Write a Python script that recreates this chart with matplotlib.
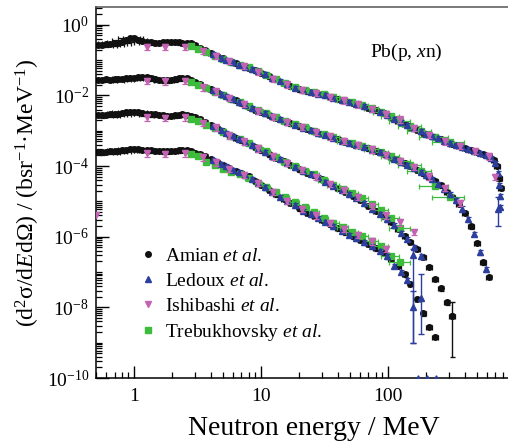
import numpy as np
import matplotlib
matplotlib.use('Agg')
import matplotlib.pyplot as plt
from matplotlib.lines import Line2D
from matplotlib.ticker import LogLocator, FixedLocator, FixedFormatter, NullFormatter, LogFormatterSciNotation

plt.rcParams['font.family'] = ['Liberation Serif', 'DejaVu Serif']
plt.rcParams['mathtext.fontset'] = 'custom'
plt.rcParams['mathtext.rm'] = 'Liberation Serif'
plt.rcParams['mathtext.it'] = 'Liberation Serif:italic'
plt.rcParams['mathtext.bf'] = 'Liberation Serif:bold'

# ---- Amian et al. (black), four angles, shared energy grid (MeV)
amian_e = [0.52, 0.56, 0.60, 0.65, 0.70, 0.75, 0.80, 0.86, 0.93, 1.0,
           1.08, 1.16, 1.25, 1.35, 1.45, 1.56, 1.68, 1.8, 1.95, 2.1,
           2.25, 2.4, 2.6, 2.8, 3.0, 3.3, 3.6, 4.0, 4.5, 5.0,
           5.6, 6.3, 7.0, 8.0, 9.0, 10, 11.5, 13, 15, 17,
           20, 23, 26, 30, 35, 40, 46, 53, 60, 70,
           80, 92, 105, 120, 135, 150, 170, 190, 210, 235,
           260, 290, 320, 360, 400, 450, 500, 560, 620, 680,
           720, 750, 770]
amian_dex = [0.30, 0.30, 0.28, 0.27, 0.26, 0.25, 0.24, 0.22, 0.20, 0.18,
             0.16, 0.14, 0.12, 0.10, 0.09, 0.08, 0.07, 0.06, 0.06, 0.05,
             0.04, 0.04, 0.04, 0.04, 0.04, 0.04, 0.04, 0.04, 0.04, 0.04,
             0.04, 0.04, 0.04, 0.04, 0.04, 0.04, 0.04, 0.04, 0.04, 0.04,
             0.04, 0.04, 0.04, 0.04, 0.04, 0.04, 0.04, 0.04, 0.04, 0.04,
             0.05, 0.05, 0.05, 0.05, 0.05, 0.05, 0.05, 0.05, 0.05, 0.05,
             0.05, 0.05, 0.05, 0.05, 0.05, 0.05, 0.05, 0.05, 0.05, 0.05,
             0.05, 0.05, 0.05]
amian_c1 = [0.271, 0.271, 0.280, 0.290, 0.299, 0.309, 0.330, 0.376, 0.428, 0.415,
            0.376, 0.352, 0.330, 0.319, 0.309, 0.309, 0.319, 0.330, 0.330, 0.330,
            0.319, 0.309, 0.309, 0.299, 0.271, 0.223, 0.190, 0.161, 0.132, 0.112,
            0.0955, 0.0812, 0.0712, 0.0605, 0.0514, 0.0437, 0.0348, 0.0286, 0.0228, 0.0187,
            0.0149, 0.0131, 0.0119, 0.0108, 0.00913, 0.00801, 0.00703, 0.00617, 0.00542, 0.00445,
            0.00378, 0.00321, 0.00248, 0.00191, 0.00157, 0.00129, 0.00106, 8.7e-4, 7.65e-4, 6.5e-4,
            5.7e-4, 4.85e-4, 4.25e-4, 3.73e-4, 3.28e-4, 2.88e-4, 2.52e-4, 2.22e-4, 1.88e-4, 1.50e-4,
            1.01e-4, 4.6e-5, 2.4e-5]
amian_c2 = [0.0277, 0.0277, 0.0286, 0.0277, 0.0286, 0.0295, 0.0295, 0.0305, 0.0315, 0.0315,
            0.0326, 0.0336, 0.0326, 0.0305, 0.0286, 0.0277, 0.0268, 0.0268, 0.0277, 0.0286,
            0.0305, 0.0315, 0.0305, 0.0277, 0.0243, 0.0206, 0.0175, 0.0149, 0.0127, 0.0104,
            0.00855, 0.00726, 0.00617, 0.00475, 0.00391, 0.00343, 0.00282, 0.00232, 0.00191, 0.00162,
            0.00133, 0.00113, 9.6e-4, 8.2e-4, 6.7e-4, 5.7e-4, 4.85e-4, 4.25e-4, 3.73e-4, 3.17e-4,
            2.69e-4, 2.22e-4, 1.82e-4, 1.45e-4, 1.19e-4, 1.01e-4, 7.8e-5, 6.2e-5, 4.9e-5, 3.7e-5,
            2.84e-5, 1.86e-5, 1.34e-5, 8.5e-6, 4.7e-6, 2.0e-6, 6.7e-7, 1.9e-7, 7.3e-8]
amian_c3 = [0.00282, 0.00273, 0.00282, 0.00291, 0.00291, 0.00301, 0.00321, 0.00332, 0.00343, 0.00343,
            0.00332, 0.00311, 0.00301, 0.00291, 0.00291, 0.00282, 0.00273, 0.00264, 0.00264, 0.00273,
            0.00282, 0.00291, 0.00282, 0.00264, 0.00240, 0.00210, 0.00179, 0.00147, 0.00121, 9.6e-4,
            7.65e-4, 6.29e-4, 5.35e-4, 4.39e-4, 3.50e-4, 2.79e-4, 2.15e-4, 1.71e-4, 1.40e-4, 1.08e-4,
            8.06e-5, 6.42e-5, 5.45e-5, 4.20e-5, 3.13e-5, 2.34e-5, 1.86e-5, 1.43e-5, 1.10e-5, 7.46e-6,
            5.38e-6, 3.76e-6, 2.63e-6, 1.66e-6, 1.05e-6, 7.1e-7, 4.5e-7, 2.7e-7, 1.4e-7, 6.4e-8,
            3.5e-8, 1.4e-8, 5.7e-9]
amian_c4 = [2.52e-4, 2.44e-4, 2.52e-4, 2.61e-4, 2.61e-4, 2.69e-4, 2.79e-4, 2.88e-4, 3.07e-4, 3.07e-4,
            2.97e-4, 2.88e-4, 2.88e-4, 2.79e-4, 2.69e-4, 2.69e-4, 2.61e-4, 2.61e-4, 2.69e-4, 2.69e-4,
            2.79e-4, 2.88e-4, 2.79e-4, 2.61e-4, 2.37e-4, 2.15e-4, 1.88e-4, 1.60e-4, 1.32e-4, 1.08e-4,
            8.9e-5, 7.3e-5, 6.2e-5, 5.1e-5, 3.8e-5, 2.93e-5, 2.12e-5, 1.58e-5, 1.18e-5, 9.1e-6,
            6.5e-6, 4.7e-6, 3.9e-6, 3.0e-6, 2.23e-6, 1.72e-6, 1.32e-6, 1.02e-6, 8.1e-7, 6.25e-7,
            4.7e-7, 3.5e-7, 2.35e-7, 1.49e-7, 8.8e-8, 4.6e-8, 1.73e-8, 6.9e-9, 2.8e-9, 1.45e-9]
# point with a large error bar (energy, value, lower, upper)
amian_big = [(320, 5.7e-9, 4e-10, 1.4e-8)]

# ---- Ledoux et al. (blue)
ledoux_e = [4.2, 4.8, 5.3, 6.0, 6.7, 7.5, 8.5, 9.5, 10.7, 12.2,
            14, 16, 18.5, 21.5, 24.5, 28, 32, 37, 43, 49,
            56, 65, 75, 86, 98, 112, 127, 142, 160, 180,
            200, 222, 247, 275, 305, 340, 380, 425, 475, 530,
            590, 650, 700, 735, 750, 760, 765]
ledoux_c1 = [0.145, 0.118, 0.102, 0.088, 0.074, 0.066, 0.055, 0.048, 0.040, 0.032,
             0.0255, 0.0205, 0.0165, 0.0140, 0.0124, 0.0113, 0.0101, 0.0086, 0.0075, 0.0066,
             0.0058, 0.0049, 0.0041, 0.0035, 0.0028, 0.0022, 0.00174, 0.00142, 0.00117, 9.6e-4,
             8.1e-4, 7.0e-4, 6.1e-4, 5.2e-4, 4.5e-4, 3.95e-4, 3.5e-4, 3.05e-4, 2.7e-4, 2.35e-4,
             2.0e-4, 1.7e-4, 1.25e-4, 6.5e-5, 3.0e-5, 1.4e-5, 7e-6]
ledoux_c2 = [0.0140, 0.0112, 0.0095, 0.0079, 0.0067, 0.0054, 0.0043, 0.0037, 0.0031, 0.0026,
             0.0021, 0.00175, 0.00147, 0.00123, 0.00104, 8.9e-4, 7.6e-4, 6.3e-4, 5.2e-4, 4.55e-4,
             4.0e-4, 3.45e-4, 2.9e-4, 2.45e-4, 2.0e-4, 1.62e-4, 1.31e-4, 1.10e-4, 8.9e-5, 7.0e-5,
             5.5e-5, 4.3e-5, 3.2e-5, 2.3e-5, 1.58e-5, 1.07e-5, 6.3e-6, 3.1e-6, 1.2e-6, 3.6e-7,
             1.2e-7]
ledoux_c3 = [1.36e-3, 1.06e-3, 8.6e-4, 6.9e-4, 5.8e-4, 4.85e-4, 3.9e-4, 3.1e-4, 2.45e-4, 1.9e-4,
             1.55e-4, 1.22e-4, 9.3e-5, 7.2e-5, 5.9e-5, 4.8e-5, 3.6e-5, 2.7e-5, 2.08e-5, 1.6e-5,
             1.25e-5, 9.0e-6, 6.3e-6, 4.5e-6, 3.1e-6, 2.1e-6, 1.3e-6, 8.6e-7, 5.0e-7, 2.8e-7]
ledoux_c4 = [1.46e-4, 1.17e-4, 9.8e-5, 8.0e-5, 6.6e-5, 5.6e-5, 4.4e-5, 3.3e-5, 2.5e-5, 1.83e-5,
             1.36e-5, 1.03e-5, 7.7e-6, 5.5e-6, 4.3e-6, 3.4e-6, 2.6e-6, 1.95e-6, 1.5e-6, 1.15e-6,
             9.0e-7, 7.0e-7, 5.3e-7, 4.0e-7, 2.8e-7, 1.5e-7, 1.0e-7, 6e-8]
ledoux_big = [(730, 6e-6, 2e-6, 1.3e-5), (157, 3.0e-7, 1.0e-9, 4.5e-7),
              (157, 1.0e-8, 1.0e-9, 3e-8), (180, 1.9e-8, 1.8e-9, 9e-8)]
ledoux_floor_e = [172, 203, 240]
ledoux_floor_v = [1.1e-10, 1.05e-10, 1.1e-10]

# ---- Ishibashi et al. (pink)
ishi_e = [1.27, 1.75, 2.5, 3.5, 4.4, 5.6, 7.3, 9.5, 12.5, 16,
          21, 27, 35, 45, 58, 75, 97, 125, 160, 210,
          280, 370, 480, 620, 700]
ishi_c1 = [0.24, 0.24, 0.24, 0.185, 0.135, 0.097, 0.068, 0.047, 0.030, 0.0205,
           0.0143, 0.0118, 0.0092, 0.0073, 0.0057, 0.0042, 0.0030, 0.0021, 0.0012, 7.7e-4,
           5.1e-4, 3.7e-4, 2.7e-4, 1.9e-4, 5e-5]
ishi_c2 = [0.026, 0.025, 0.026, 0.017, 0.013, 0.0086, 0.0058, 0.0037, 0.0025, 0.00178,
           0.00128, 9.5e-4, 7.0e-4, 5.3e-4, 4.0e-4, 3.0e-4, 2.1e-4, 1.4e-4, 9.5e-5, 5.2e-5,
           2.4e-5, 9e-6]
ishi_c3 = [0.0024, 0.0023, 0.0024, 1.7e-3, 1.25e-3, 7.5e-4, 5.0e-4, 3.2e-4, 1.9e-4, 1.25e-4,
           7.8e-5, 5.0e-5, 3.2e-5, 2.1e-5, 1.35e-5, 7.5e-6, 4.0e-6, 2.6e-6, 1.4e-6]
ishi_c4 = [2.3e-4, 2.2e-4, 2.3e-4, 1.8e-4, 1.3e-4, 8.5e-5, 5.6e-5, 3.4e-5, 1.9e-5, 1.05e-5,
           6.2e-6, 4.0e-6, 2.5e-6, 1.7e-6, 1.15e-6, 7.5e-7, 4.5e-7]
ishi_stray_e = [0.5]
ishi_stray_v = [4e-6]

# ---- Trebukhovsky et al. (green)
treb_e = [2.8, 3.2, 3.7, 4.3, 5.0, 5.8, 6.8, 8.0, 9.5, 11,
          13, 15.5, 18.5, 22, 26, 31, 37, 44, 52, 62,
          74, 88, 105, 125, 150, 180, 235, 307]
treb_dex = [0.05, 0.05, 0.05, 0.05, 0.05, 0.05, 0.05, 0.06, 0.06, 0.06,
            0.07, 0.07, 0.08, 0.08, 0.09, 0.09, 0.10, 0.10, 0.11, 0.12,
            0.13, 0.14, 0.16, 0.18, 0.20, 0.22, 0.25, 0.28]
treb_c1 = [0.26, 0.21, 0.165, 0.133, 0.108, 0.090, 0.074, 0.062, 0.049, 0.039,
           0.0295, 0.0225, 0.0172, 0.0140, 0.0122, 0.0107, 0.0090, 0.0076, 0.0065, 0.0054,
           0.0044, 0.0035, 0.0026, 0.0019, 0.00135, 1.0e-3, 6.8e-4, 4.8e-4]
treb_c2 = [0.024, 0.020, 0.0158, 0.0128, 0.0102, 0.0082, 0.0066, 0.0050, 0.0039, 0.0031,
           0.0024, 0.0019, 0.00152, 0.00130, 1.0e-3, 8.1e-4, 6.6e-4, 5.3e-4, 4.5e-4, 3.75e-4,
           3.1e-4, 2.5e-4, 1.9e-4, 1.4e-4, 1.05e-4, 7.2e-5, 2.8e-5, 1.3e-5]
treb_c3 = [0.0022, 0.0019, 0.00150, 0.00122, 9.4e-4, 7.3e-4, 5.7e-4, 4.5e-4, 3.3e-4, 2.6e-4,
           1.8e-4, 1.35e-4, 9.8e-5, 7.4e-5, 5.8e-5, 4.1e-5, 2.9e-5, 2.2e-5, 1.75e-5, 1.25e-5,
           8.5e-6, 5.6e-6, 3.3e-6, 1.8e-6]
treb_c4 = [2.2e-4, 1.9e-4, 1.3e-4, 1.05e-4, 8.5e-5, 7.0e-5, 5.8e-5, 4.6e-5, 3.3e-5, 2.5e-5,
           1.8e-5, 1.3e-5, 9.5e-6, 6.8e-6, 4.9e-6, 3.4e-6, 2.5e-6, 1.85e-6, 1.4e-6, 1.05e-6,
           7.8e-7, 5.4e-7, 2.9e-7, 1.9e-7]

y_major = [1e-10, 1e-8, 1e-6, 1e-4, 1e-2, 1e0]
x_major = [1, 10, 100]
x_major_labels = ['1', '10', '100']

c_black = '#111111'
c_blue = '#2d3f9e'
c_pink = '#c462b3'
c_green = '#3dbb3a'

fig = plt.figure(figsize=(5.08, 4.41), dpi=100)
ax = fig.add_axes([96/508, 1 - 378/441, 436/508, 371/441])
ax.set_xscale('log')
ax.set_yscale('log')

def draw(e_all, vals, color, fmt, ms, rel_y, dex=None, cap=1.5, z=2):
    v = np.array(vals)
    e = np.array(e_all[:len(v)])
    xerr = None
    if dex is not None:
        xerr = np.array(dex[:len(v)]) * e
    ax.errorbar(e, v, xerr=xerr, yerr=rel_y * v, fmt=fmt, ms=ms, mfc=color, mec=color,
                ecolor=color, elinewidth=0.9, capsize=cap, capthick=0.9, zorder=z)

for vals in [amian_c1, amian_c2, amian_c3, amian_c4]:
    draw(amian_e, vals, c_black, 'o', 4.0, 0.15, dex=amian_dex, cap=1.8, z=2)
for e, v, lo, hi in amian_big:
    ax.errorbar([e], [v], yerr=[[v - lo], [hi - v]], fmt='o', ms=4.0, color=c_black,
                elinewidth=1.0, capsize=1.8, zorder=2)

for vals in [treb_c1, treb_c2, treb_c3, treb_c4]:
    draw(treb_e, vals, c_green, 's', 3.8, 0.12, dex=treb_dex, cap=1.8, z=3)

for vals in [ledoux_c1, ledoux_c2, ledoux_c3, ledoux_c4]:
    draw(ledoux_e, vals, c_blue, '^', 4.2, 0.14, cap=1.8, z=4)
for e, v, lo, hi in ledoux_big:
    ax.errorbar([e], [v], yerr=[[v - lo], [hi - v]], fmt='^', ms=4.2, color=c_blue,
                elinewidth=1.0, capsize=2.2, zorder=4)
ax.plot(ledoux_floor_e, ledoux_floor_v, '^', ms=2.5, color=c_blue, zorder=4)

for vals in [ishi_c1, ishi_c2, ishi_c3, ishi_c4]:
    draw(ishi_e, vals, c_pink, 'v', 5.0, 0.2, cap=2.5, z=5)
ax.plot(ishi_stray_e, ishi_stray_v, 'v', ms=5.0, color=c_pink, zorder=5)

ax.set_xlim(0.5, 1360)
ax.set_ylim(1e-10, 3.2)

ax.xaxis.set_major_locator(FixedLocator(x_major))
ax.xaxis.set_major_formatter(FixedFormatter(x_major_labels))
ax.xaxis.set_minor_locator(LogLocator(base=10, subs=np.arange(2, 10), numticks=20))
ax.xaxis.set_minor_formatter(NullFormatter())
ax.yaxis.set_major_locator(FixedLocator(y_major))
ax.yaxis.set_major_formatter(LogFormatterSciNotation())
ax.yaxis.set_minor_locator(LogLocator(base=10, subs=np.arange(1, 10), numticks=40))
ax.yaxis.set_minor_formatter(NullFormatter())

ax.tick_params(which='both', direction='in', top=False, right=False, labelsize=14)
ax.tick_params(which='major', length=9, width=1.0)
ax.tick_params(which='minor', length=4.5, width=0.9)
ax.tick_params(axis='x', pad=7)
ax.tick_params(axis='y', pad=5)
for s in ['left', 'bottom', 'top']:
    ax.spines[s].set_linewidth(1.1)
ax.spines['top'].set_color('#555555')
ax.spines['right'].set_visible(False)

ax.set_xlabel('Neutron energy / MeV', fontsize=20, labelpad=8)
ax.set_ylabel(r'(d$^2$σ/d$\mathit{E}$d$\mathit{Ω}$) / (bsr$^{-1}$·MeV$^{-1}$)', fontsize=17, labelpad=3)

ax.text(139, 0.17, r'Pb(p, $\mathit{x}$n)', fontsize=14, ha='center', va='center')

handles = [
    Line2D([], [], ls='none', marker='o', ms=4, color=c_black),
    Line2D([], [], ls='none', marker='^', ms=4, color=c_blue),
    Line2D([], [], ls='none', marker='v', ms=4, color=c_pink),
    Line2D([], [], ls='none', marker='s', ms=4, color=c_green),
]
labels = [r'Amian $\mathit{et\ al}$.', r'Ledoux $\mathit{et\ al}$.',
          r'Ishibashi $\mathit{et\ al}$.', r'Trebukhovsky $\mathit{et\ al}$.']
ax.legend(handles, labels, loc='upper left', bbox_to_anchor=(0.07, 0.39), frameon=False,
          fontsize=14, handlelength=0.8, handletextpad=0.5, labelspacing=0.38, borderpad=0.2)

fig.savefig('out.png', dpi=100)
